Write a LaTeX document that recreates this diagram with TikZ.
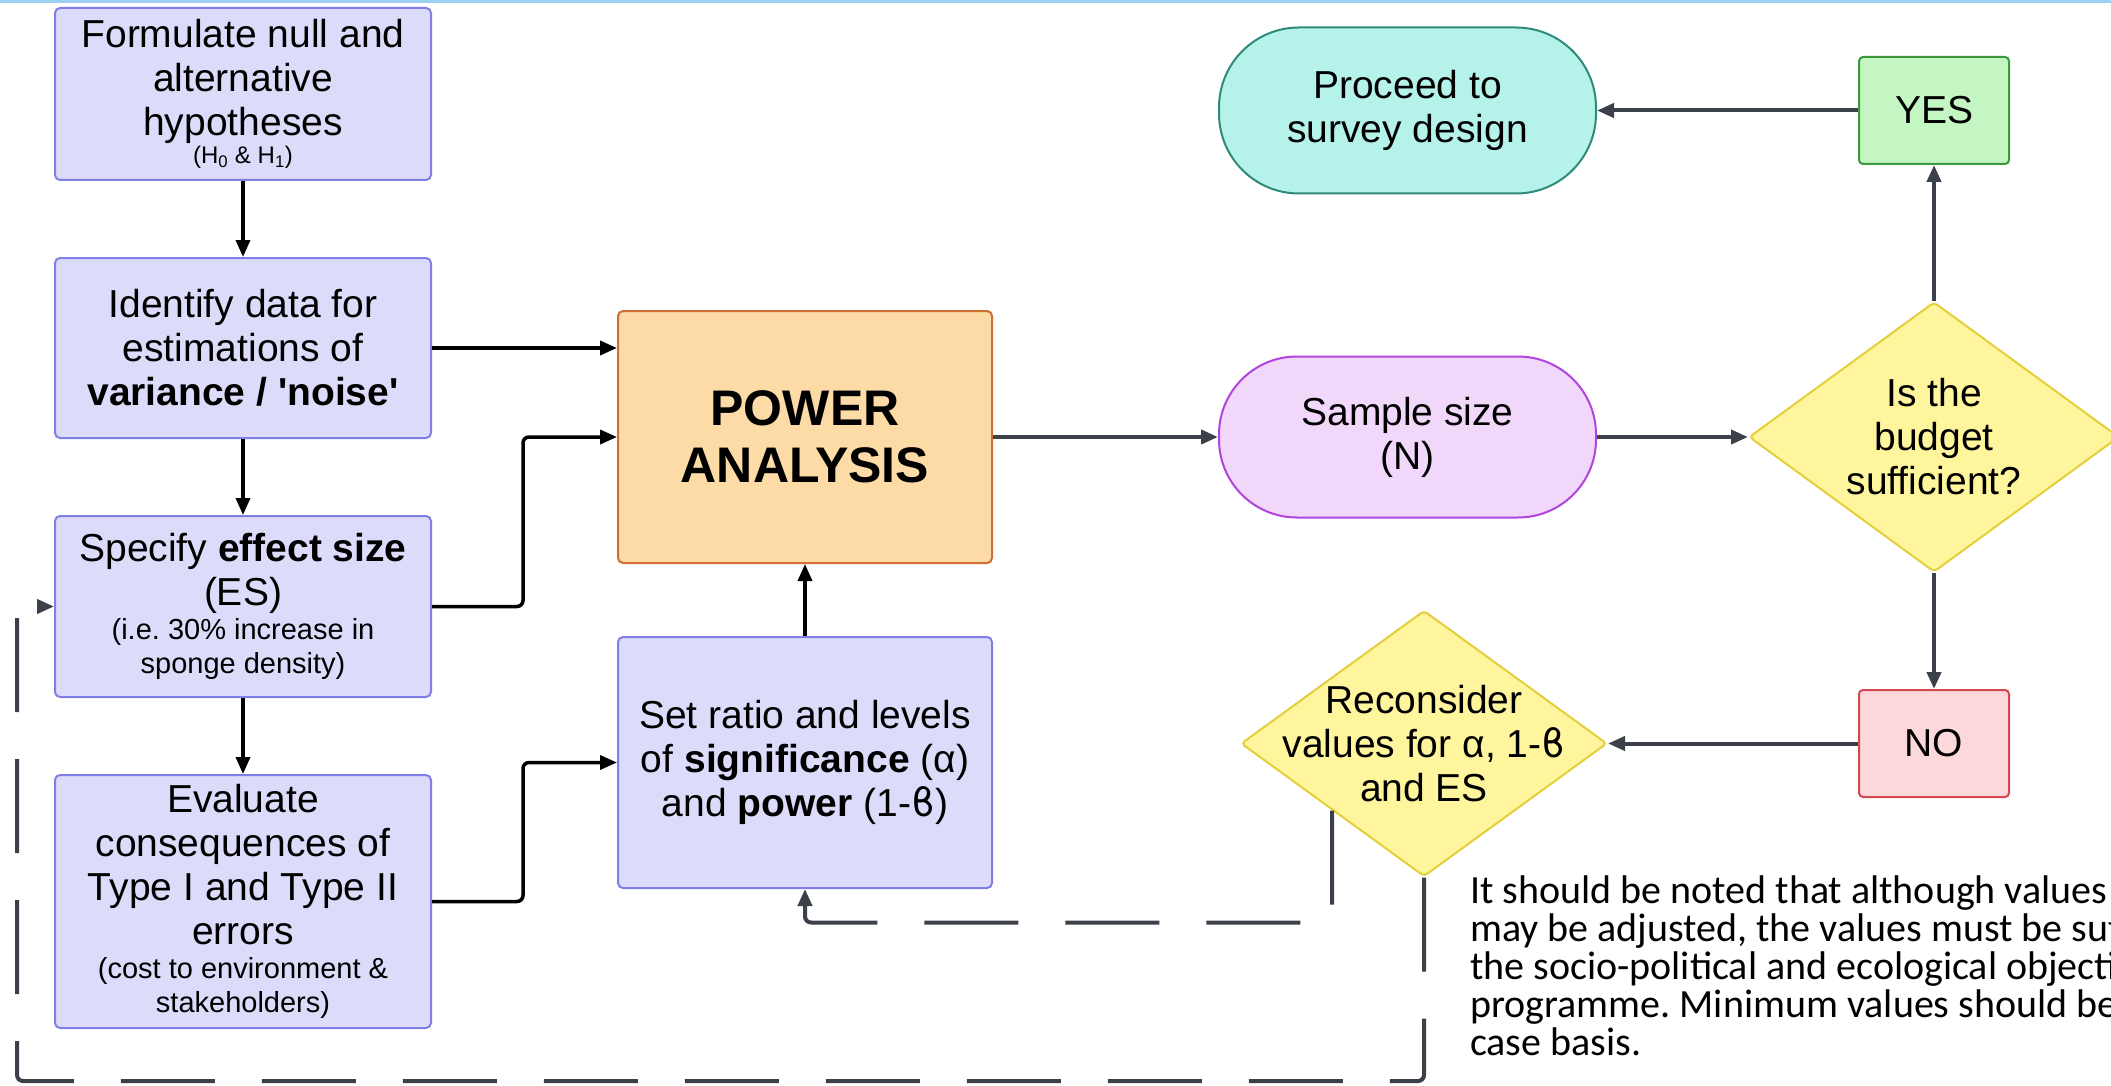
\documentclass[tikz,border=0pt]{standalone}
\usepackage{fontspec}
\setmainfont{Liberation Sans}
\newfontfamily\notefont{Carlito}
\newfontfamily\greekfont{DejaVu Sans}
\usepackage[HTML]{xcolor}
\usetikzlibrary{positioning, arrows.meta, shapes.geometric}
\frenchspacing

\definecolor{stepfill}{HTML}{DCDCFA}
\definecolor{stepline}{HTML}{7F7FE6}
\definecolor{powerfill}{HTML}{FCDBA6}
\definecolor{powerline}{HTML}{CF6F33}
\definecolor{samplefill}{HTML}{F1D8FA}
\definecolor{sampleline}{HTML}{B044DC}
\definecolor{proceedfill}{HTML}{B5F2E9}
\definecolor{proceedline}{HTML}{2F8A78}
\definecolor{yesfill}{HTML}{C4F6C4}
\definecolor{yesline}{HTML}{3C9A3C}
\definecolor{nofill}{HTML}{FDD8DA}
\definecolor{noline}{HTML}{D6484F}
\definecolor{askfill}{HTML}{FEF59C}
\definecolor{askline}{HTML}{E4CF3B}
\definecolor{flowgray}{HTML}{3C4049}
\definecolor{stripblue}{HTML}{9DD1F3}

\newcommand{\stepsize}{\fontsize{39pt}{44pt}\selectfont}
\newcommand{\stepsubsize}{\fontsize{29pt}{34pt}\selectfont}
\newcommand{\hypsize}{\fontsize{24pt}{28pt}\selectfont}
\newcommand{\powersize}{\fontsize{50pt}{57pt}\selectfont}
\newcommand{\notesize}{\fontsize{40pt}{38pt}\selectfont}
\newcommand{\cbeta}{{\greekfont ϐ}}

\tikzset{
  stepbox/.style={rectangle, rounded corners=5pt, draw=stepline, fill=stepfill, line width=2pt,
    minimum width=376pt, text width=366pt, align=flush center, inner sep=0pt, font=\stepsize},
  powerbox/.style={stepbox, draw=powerline, fill=powerfill, minimum width=374pt, text width=360pt},
  stadium/.style={rectangle, rounded corners=78pt, line width=2pt, minimum width=377pt,
    align=center, inner sep=0pt, font=\stepsize},
  answer/.style={rectangle, rounded corners=4pt, line width=2pt, minimum width=150pt,
    minimum height=107pt, font=\stepsize},
  decision/.style={diamond, rounded corners=4pt, draw=askline, fill=askfill, line width=2pt,
    aspect=1.37, inner sep=-25pt, minimum width=368pt, minimum height=268pt, align=center, font=\stepsize},
  blackarrow/.style={->, line width=3.5pt, rounded corners=6pt},
  grayarrow/.style={->, draw=flowgray, line width=4pt},
  loopline/.style={->, draw=flowgray, line width=4pt, dash pattern=on 94pt off 47pt, rounded corners=6pt},
  notetext/.style={align=left, inner sep=0pt, font=\notesize\notefont}
}

\begin{document}
\begin{tikzpicture}[x=1pt, y=-1pt, >={Triangle[length=17pt,width=14pt]}, node distance=76pt]

    \useasboundingbox (0,0) rectangle (2111,1086);
    \fill[stripblue] (0,0) rectangle (2111,3);

    % 1. Define Nodes
    % Left column: the preparation steps
    \node[stepbox, minimum height=172pt] (hyp) at (243,94) {Formulate null and\\ alternative\\ hypotheses\par
      {\hypsize (H\textsubscript{0} \& H\textsubscript{1})\par}};
    \node[stepbox, minimum height=180pt] (noise) [below=of hyp] {Identify data for\\ estimations of\\
      \textbf{variance / \textquotesingle noise\textquotesingle}};
    \node[stepbox, minimum height=181pt] (effect) [below=of noise] {Specify \textbf{effect size}\\ (ES)\par
      {\stepsubsize (i.e. 30\% increase in\\ sponge density)\par}};
    \node[stepbox, minimum height=253pt] (errors) [below=of effect] {Evaluate\\ consequences of\\ Type I and Type II\\ errors\par
      {\stepsubsize (cost to environment \&\\ stakeholders)\par}};

    % Middle column
    \node[powerbox, minimum height=252pt, font=\powersize\bfseries] (power) at (805,437) {POWER\\ ANALYSIS};
    \node[stepbox, minimum width=374pt, minimum height=251pt] (setr) [below=72pt of power]
      {Set ratio and levels\\ of \textbf{significance} (α)\\ and \textbf{power} (1-\cbeta)};

    % Right part: outcome and budget check
    \node[stadium, draw=sampleline, fill=samplefill, minimum height=161pt] (sample) [right=225pt of power] {Sample size\\ (N)};
    \node[stadium, draw=proceedline, fill=proceedfill, minimum height=166pt, rounded corners=80pt] (proceed)
      [above=161pt of sample] {Proceed to\\ survey design};
    \node[decision, minimum width=370pt, minimum height=270pt] (budget) [right=151pt of sample] {Is the\\ budget\\ sufficient?};
    \node[answer, draw=yesline, fill=yesfill] (yes) at (budget |- proceed) {YES};
    \node[answer, draw=noline, fill=nofill] (no) [below=116pt of budget] {NO};
    \node[decision, minimum width=366pt, minimum height=266pt] (recon) [left=250pt of no]
      {Reconsider\\ values for α, 1-\cbeta\\ and ES};

    % Note under the diagram (runs past the page edge)
    \node[notetext, anchor=north west] (note) at (1470,876) {It should be noted that although values\\
      may be adjusted, the values must be suf\\ the socio-political and ecological objecti\\
      programme. Minimum values should be\\ case basis.};

    % 2. Draw Arrows
    % Left column, top to bottom
    \draw[blackarrow] (hyp) -- (noise);
    \draw[blackarrow] (noise) -- (effect);
    \draw[blackarrow] (effect) -- (errors);

    % Inputs to the power analysis
    \draw[blackarrow] (noise.east) -- (noise.east -| power.west);
    \draw[blackarrow] (effect.east) -- ++(91,0) |- (power.west);
    \draw[blackarrow] (errors.east) -- ++(91,0) |- (setr.west);
    \draw[blackarrow] (setr) -- (power);

    % Result and budget decision
    \draw[grayarrow] (power) -- (sample);
    \draw[grayarrow] (sample) -- (budget);
    \draw[grayarrow] (budget) -- (yes);
    \draw[grayarrow] (yes) -- (proceed);
    \draw[grayarrow] (budget) -- (no);
    \draw[grayarrow] (no) -- (recon);

    % Dashed feedback loops
    \draw[loopline] (recon.south west) -- ++(0,112) -| (setr.south);
    \coordinate (loopcorner) at (17,1081);
    \draw[loopline] (recon.south) |- (loopcorner) |- (effect.west);

\end{tikzpicture}
\end{document}
